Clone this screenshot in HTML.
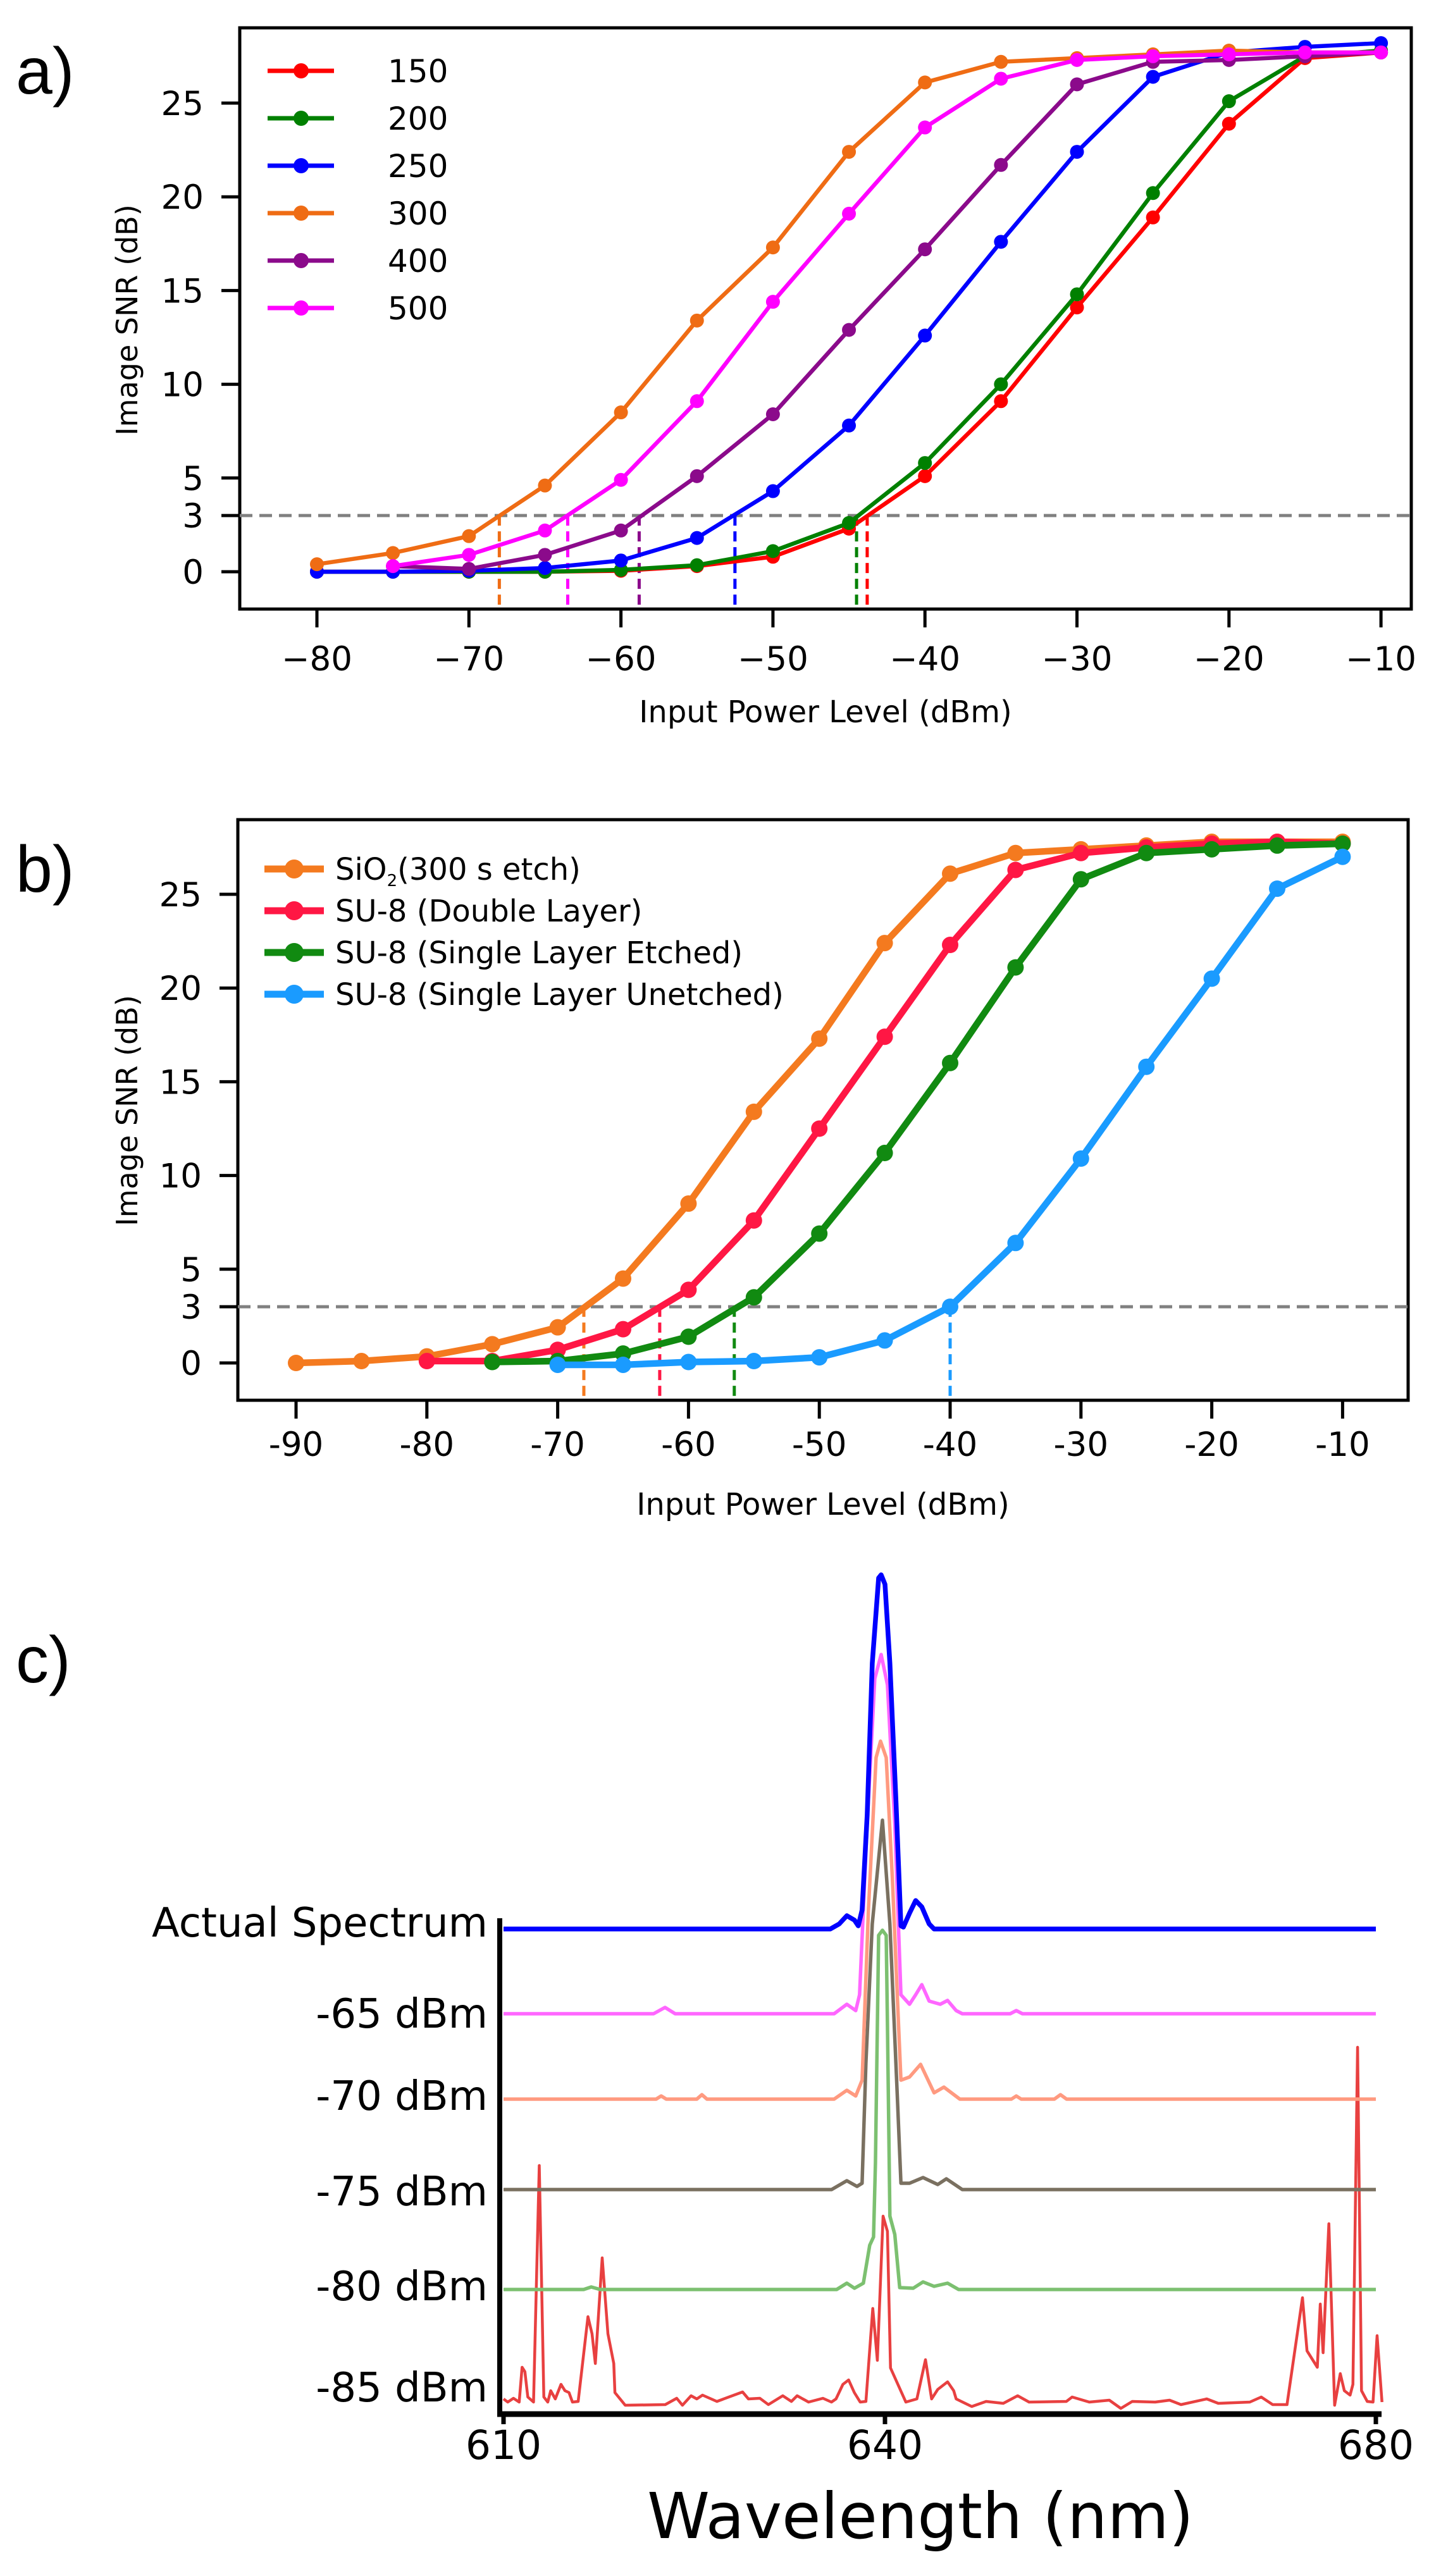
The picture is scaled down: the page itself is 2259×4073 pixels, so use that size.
<!DOCTYPE html>
<html><head><meta charset="utf-8"><style>
html,body{margin:0;padding:0;background:#fff}
svg{display:block}
text{font-family:"DejaVu Sans","Liberation Sans",sans-serif}
</style></head><body>
<svg id="fig" xmlns="http://www.w3.org/2000/svg" width="2259" height="4073" viewBox="0 0 2259 4073">
<rect x="0" y="0" width="2259" height="4073" fill="#fff"/>
<text x="25" y="148" font-size="104" style="font-family:'Liberation Sans',sans-serif">a)</text>
<text x="25" y="1410" font-size="104" style="font-family:'Liberation Sans',sans-serif">b)</text>
<text x="25" y="2660" font-size="104" style="font-family:'Liberation Sans',sans-serif">c)</text>
<g id="ga"></g>
<g id="gb"></g>
<g id="gc"></g>
</svg>
<script>
// ---------- Panel a data ----------
const aX = [-80,-75,-70,-65,-60,-55,-50,-45,-40,-35,-30,-25,-20,-15,-10];
const aNames = ["150","200","250","300","400","500"];
const a150 = [0,0,0,0,0.05,0.3,0.8,2.3,5.1,9.1,14.1,18.9,23.9,27.4,27.7];
const a200 = [0,0,0,0,0.1,0.35,1.1,2.6,5.8,10,14.8,20.2,25.1,27.5,27.8];
const a250 = [0,0,0.05,0.2,0.6,1.8,4.3,7.8,12.6,17.6,22.4,26.4,27.7,28.0,28.2];
const a300 = [0.4,1.0,1.9,4.6,8.5,13.4,17.3,22.4,26.1,27.2,27.4,27.6,27.8,27.7,27.7];
const a400 = [null,0.3,0.15,0.9,2.2,5.1,8.4,12.9,17.2,21.7,26.0,27.2,27.3,27.5,27.7];
const a500 = [null,0.3,0.9,2.2,4.9,9.1,14.4,19.1,23.7,26.3,27.3,27.5,27.6,27.7,27.7];
const aCross = [-43.8,-44.5,-52.5,-68,-58.8,-63.5];
const aXTicks = [-80,-70,-60,-50,-40,-30,-20,-10];
const aYTicks = [0,3,5,10,15,20,25];
// ---------- Panel b data ----------
const bNames = ["SiO2 (300 s etch)","SU-8 (Double Layer)","SU-8 (Single Layer Etched)","SU-8 (Single Layer Unetched)"];
const bXs = [-90,-85,-80,-75,-70,-65,-60,-55,-50,-45,-40,-35,-30,-25,-20,-15,-10];
const bSiO2 = [0,0.1,0.35,1.0,1.9,4.5,8.5,13.4,17.3,22.4,26.1,27.2,27.4,27.6,27.8,27.8,27.8];
const bDouble = [null,null,0.1,0.1,0.7,1.8,3.9,7.6,12.5,17.4,22.3,26.3,27.2,27.5,27.7,27.8,27.7];
const bEtched = [null,null,null,0.05,0.1,0.5,1.4,3.5,6.9,11.2,16.0,21.1,25.8,27.2,27.4,27.6,27.7];
const bUnetched = [null,null,null,null,-0.1,-0.1,0.05,0.1,0.3,1.2,3.0,6.4,10.9,15.8,20.5,25.3,27.0];
const bCross = [-68,-62.2,-56.5,-40];
const bXTicks = [-90,-80,-70,-60,-50,-40,-30,-20,-10];
const bYTicks = [0,3,5,10,15,20,25];
// ---------- Panel c data ----------
const cLabels = ["Actual Spectrum","-65 dBm","-70 dBm","-75 dBm","-80 dBm","-85 dBm"];
const cXTicks = [610,640,680];
const cBlueNm = [610,635.7,636.4,637.0,637.6,637.9,638.2,638.6,639.0,639.5,639.7,640.0,640.4,640.9,641.3,641.5,642.0,642.5,643.0,643.6,644.0,680];
const cBlueH  = [0,0,8,21,14,5,30,180,420,555,560,545,420,200,5,3,25,45,35,8,0,0];
const cMagNm = [610,621.8,622.7,623.5,636.0,637.0,637.7,638.0,638.6,639.2,639.7,640.2,640.8,641.3,642.0,642.5,643.0,643.6,644.5,645.1,645.8,646.3,650.2,650.7,651.2,680];
const cMagH  = [0,0,10,0,0,15,5,30,300,530,568,520,300,30,15,30,46,20,15,21,5,0,0,5,0,0];
const cPeachNm = [610,622.0,622.4,622.8,625.2,625.6,626.0,636.0,637.0,637.7,638.2,638.7,639.3,639.65,640.1,640.6,641.1,641.3,642.0,642.9,644.0,644.8,646.1,650.3,650.7,651.1,653.8,654.3,654.8,680];
const cPeachH  = [0,0,5,0,0,7,0,0,14,5,30,300,540,566,540,350,120,30,35,55,10,19,0,0,5,0,0,7,0,0];
const cGrayNm = [610,635.8,637.0,637.8,638.2,638.5,639.0,639.8,640.4,641.0,641.3,642.0,643.1,644.3,645.0,646.3,680];
const cGrayH  = [0,0,14,5,10,200,420,584,420,150,10,10,19,8,17,0,0];
const cGreenNm = [610,616.3,616.9,617.6,636.2,637.0,637.6,638.3,638.8,639.1,639.25,639.5,639.8,640.1,640.2,640.4,640.8,641.2,642.3,643.1,644.0,645.1,646.0,680];
const cGreenH  = [0,0,4,0,0,10,2,10,70,83,200,560,568,560,420,116,87,3,2,12,5,10,0,0];
const cRedNm = [610.0,610.33,610.78,611.23,611.46,611.68,611.91,612.36,612.81,613.17,613.48,613.71,614.07,614.52,614.83,615.15,615.42,615.87,616.64,616.96,617.22,617.76,618.21,618.67,618.76,619.57,622.72,623.62,624.07,624.75,625.2,625.65,626.78,628.8,629.26,630.16,630.83,631.96,632.64,633.09,633.99,635.12,635.79,636.15,636.69,637.14,637.59,638.05,638.5,639.04,639.4,639.85,640.2,640.45,641.7,642.6,643.3,643.8,644.3,645.1,645.6,645.8,647.07,648.24,649.64,650.81,651.74,654.78,655.25,656.65,658.28,659.22,660.15,662.02,663.19,664.12,666.22,667.16,669.73,670.66,671.59,672.76,674.02,674.39,675.23,675.47,675.7,676.17,676.64,677.1,677.43,677.9,678.13,678.51,678.83,679.3,679.77,680.1,680.5];
const cRedH  = [5,0,6,0,55,48,8,0,374,8,0,18,5,28,18,15,0,1,135,108,61,228,108,61,15,-5,-4,6,-5,10,5,11,1,16,5,6,-4,10,1,10,0,6,0,5,28,35,15,0,1,148,66,294,270,54,0,5,67,5,20,32,18,5,-7,1,-2,10,0,1,8,0,3,-10,1,0,3,-4,5,-2,0,8,-4,-4,165,81,55,155,78,282,-5,45,18,11,28,561,18,1,0,105,0];

const NS="http://www.w3.org/2000/svg";
function mk(parent, tag, attrs){const e=document.createElementNS(NS,tag);for(const k in attrs)e.setAttribute(k,attrs[k]);parent.appendChild(e);return e;}

function lineChart(g, cfg, xs, series, colors, names, cross, xTicks, yTicks, minus, lw, mr){
  const L=cfg.L,R=cfg.R,T=cfg.T,B=cfg.B;
  const sx=v=>cfg.x0px+(v-cfg.x0)*cfg.pxPerX;
  const sy=v=>cfg.y0px-v*cfg.pxPerY;
  const fr=mk(g,'rect',{x:L,y:T,width:R-L,height:B-T,fill:'none',stroke:'#000','stroke-width':5});
  
  
  const th=mk(g,'line',{x1:L,x2:R,y1:sy(3),y2:sy(3),stroke:'#808080','stroke-width':5,'stroke-dasharray':'20 11'});
  
  
  cross.forEach((c,i)=>{
    const v=mk(g,'line',{x1:sx(c),x2:sx(c),y1:sy(3),y2:B,stroke:colors[i],'stroke-width':5,'stroke-dasharray':'16 9'});
    
    
  });
  series.forEach((s,i)=>{
    const pts=[];
    s.forEach((v,j)=>{ if(v!==null) pts.push([sx(xs[j]),sy(v)]); });
    const p=mk(g,'polyline',{points:pts.map(p=>p.join(',')).join(' '),fill:'none',stroke:colors[i],'stroke-width':lw,'stroke-linejoin':'round'});
    
    
    pts.forEach(pt=>{
      const c=mk(g,'circle',{cx:pt[0],cy:pt[1],r:mr,fill:colors[i]});
      
      
    });
  });
  xTicks.forEach(t=>{
    const l=mk(g,'line',{x1:sx(t),x2:sx(t),y1:B,y2:B+29,stroke:'#000','stroke-width':5});
    
    
    const tx=mk(g,'text',{x:sx(t),y:B+cfg.xlab,'font-size':53,'text-anchor':'middle'});
    tx.textContent=minus?String(t).replace('-','\u2212'):String(t);
    
    
  });
  yTicks.forEach(t=>{
    const l=mk(g,'line',{x1:L-29,x2:L,y1:sy(t),y2:sy(t),stroke:'#000','stroke-width':5});
    
    
    const tx=mk(g,'text',{x:L-57,y:sy(t)+19,'font-size':53,'text-anchor':'end'});
    tx.textContent=String(t);
    
    
  });
  const xt=mk(g,'text',{x:(L+R)/2,y:cfg.xtY,'font-size':48,'text-anchor':'middle'});
  xt.textContent='Input Power Level (dBm)';
  
  
  const yt=mk(g,'text',{x:0,y:0,'font-size':46,'text-anchor':'middle',transform:'translate(217,'+cfg.ytY+') rotate(-90)'});
  yt.textContent='Image SNR (dB)';
  
  
}

// Panel a
const aColors=['#ff0000','#008000','#0000ff','#ef6c14','#8b0a8b','#ff00ff'];
const ga=document.getElementById('ga');
lineChart(ga,{L:379,R:2231,T:44,B:963,x0:-80,x0px:501,pxPerX:24.03,y0px:904,pxPerY:29.64,xtY:1142,ytY:506,xlab:97},
  aX,[a150,a200,a250,a300,a400,a500],aColors,aNames,aCross,aXTicks,aYTicks,true,6.5,11);
aNames.forEach((n,i)=>{
  const y=112+i*75;
  const l=mk(ga,'line',{x1:423,x2:528,y1:y,y2:y,stroke:aColors[i],'stroke-width':7});
  
  
  const c=mk(ga,'circle',{cx:476,cy:y,r:12,fill:aColors[i]});
  
  
  const t=mk(ga,'text',{x:613,y:y+18,'font-size':50});
  t.textContent=n;
  
  
});

// Panel b
const bColors=['#f47a1f','#ff1744','#118a11','#1a9bff'];
const gb=document.getElementById('gb');
lineChart(gb,{L:376,R:2226,T:1296,B:2214,x0:-90,x0px:468,pxPerX:20.68,y0px:2155,pxPerY:29.64,xtY:2395,ytY:1756,xlab:88},
  bXs,[bSiO2,bDouble,bEtched,bUnetched],bColors,bNames,bCross,bXTicks,bYTicks,false,10.5,13);
bNames.forEach((n,i)=>{
  const y=1374+i*66;
  const l=mk(gb,'line',{x1:418,x2:512,y1:y,y2:y,stroke:bColors[i],'stroke-width':11});
  
  
  const c=mk(gb,'circle',{cx:465,cy:y,r:15,fill:bColors[i]});
  
  
  const t=mk(gb,'text',{x:530,y:y+17,'font-size':48});
  if(i===0){ t.innerHTML='SiO<tspan font-size="26" dy="10">2</tspan><tspan dy="-10">(300 s etch)</tspan>'; }
  else t.textContent=n;
  
  
});

// Panel c
const gc=document.getElementById('gc');
const cx=nm=> nm<=640 ? 796+(nm-610)*20.1 : 1399+(nm-640)*19.4;
const cBases=[3050,3184,3319,3462,3620,3798];
const cColors=['#0000ff','#ff66ff','#ff9a80','#7a7060','#7cc070','#e84040'];
const cWidths=[7.5,5.5,5.5,5.5,5.5,4.5];
const cSeries=[[cBlueNm,cBlueH],[cMagNm,cMagH],[cPeachNm,cPeachH],[cGrayNm,cGrayH],[cGreenNm,cGreenH],[cRedNm,cRedH]];
for(let i=cSeries.length-1;i>=0;i--){
  const [nm,h]=cSeries[i];
  const pts=nm.map((v,j)=>[Math.min(cx(v),2190),cBases[i]-h[j]]);
  const p=mk(gc,'polyline',{points:pts.map(p=>p.join(',')).join(' '),fill:'none',stroke:cColors[i],'stroke-width':cWidths[i],'stroke-linejoin':'round'});
  
  
}
cLabels.forEach((s,i)=>{
  const t=mk(gc,'text',{x:771,y:[3062,3206,3336,3487,3637,3797][i],'font-size':64,'text-anchor':'end'});
  t.textContent=s;
  
  
});
const ay=mk(gc,'line',{x1:790,x2:790,y1:3033,y2:3821,stroke:'#000','stroke-width':8});


const ax=mk(gc,'line',{x1:786,x2:2184,y1:3817,y2:3817,stroke:'#000','stroke-width':9});


cXTicks.forEach(t=>{
  const l=mk(gc,'line',{x1:cx(t),x2:cx(t),y1:3817,y2:3833,stroke:'#000','stroke-width':7});
  
  
  const tx=mk(gc,'text',{x:cx(t),y:3888,'font-size':63,'text-anchor':'middle'});
  tx.textContent=String(t);
  
  
});
const wt=mk(gc,'text',{x:1455,y:4013,'font-size':100,'text-anchor':'middle'});
wt.textContent='Wavelength (nm)';


</script>
</body></html>
